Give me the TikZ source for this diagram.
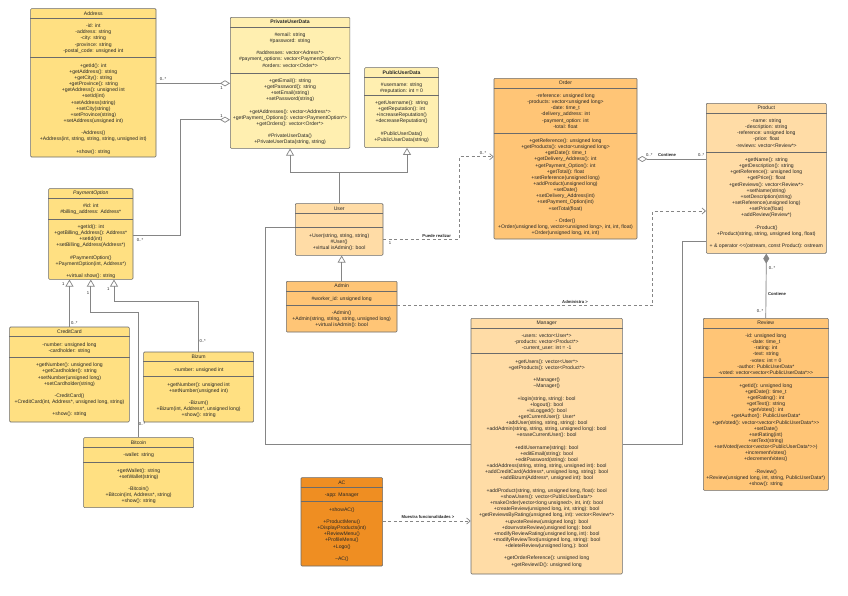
\documentclass[tikz,border=0pt]{standalone}
\usepackage{fontspec}
\setmainfont{Liberation Sans}
\usetikzlibrary{arrows.meta,positioning}

\definecolor{payfill}{HTML}{FFE082}
\definecolor{datafill}{HTML}{FFEFB0}
\definecolor{peachfill}{HTML}{FFDCA6}
\definecolor{orangefill}{HTML}{FFC576}
\definecolor{acfill}{HTML}{EF8E22}
\definecolor{boxdraw}{HTML}{6B6B6B}
\definecolor{linkdraw}{HTML}{858585}

\newcommand{\gtgt}{>\kern0pt>}
\newcommand{\ltlt}{<\kern0pt<}

\tikzset{
  classbox/.style={draw=boxdraw, line width=0.6pt, rounded corners=1pt, inner sep=0pt},
  classline/.style={draw=boxdraw, line width=0.6pt},
  classtitle/.style={font=\fontsize{5.1}{6.15}\selectfont, text=black!85, inner sep=0pt},
  members/.style={font=\fontsize{5.1}{6.15}\selectfont, text=black!85, align=center, inner sep=0pt, anchor=north},
  link/.style={draw=linkdraw, line width=0.7pt},
  dep/.style={link, dash pattern=on 3pt off 2.5pt},
  mult/.style={font=\fontsize{4.2}{5}\selectfont, text=black!85, inner sep=0pt},
  linkname/.style={font=\bfseries\fontsize{4.2}{5}\selectfont, text=black!85, inner sep=0pt},
  inherit/.style={link, -{Triangle[open, length=7pt, width=8pt]}},
  aggreg/.style={link, {Diamond[open, length=10pt, width=6pt]}-},
  compos/.style={link, {Diamond[length=10pt, width=6pt]}-},
  uses/.style={dep, -{Straight Barb[length=3.5pt, width=6pt]}},
}

% #1 style, #2 name, #3 top left, #4 width, #5 height, #6 attribute part, #7 title, #8 attributes, #9 operations
\newcommand{\umlclass}[9]{
  \node[classbox, #1, minimum width=#4, minimum height=#5, anchor=north west] (#2) at #3 {};
  \draw[classline] ([yshift=-10]#2.north west) -- ([yshift=-10]#2.north east);
  \draw[classline] ([yshift=-10-#6]#2.north west) -- ([yshift=-10-#6]#2.north east);
  \node[classtitle] (#2-title) at ([yshift=-5]#2.north) {#7};
  \node[members] (#2-attr) at ([yshift=-15.5]#2.north) {#8};
  \node[members] (#2-ops) at ([yshift=-15.5-#6]#2.north) {#9};
}

\begin{document}
\begin{tikzpicture}[x=1pt, y=-1pt]

\fill[white] (0,0) rectangle (848,595);

\umlclass{fill=payfill}{address}{(30.3,8.3)}{125.4}{148.4}{39.4}{Address}
  {-id: int\\-address: string\\-city: string\\-province: string\\-postal\_code: unsigned int}
  {+getId(): int\\+getAddress(): string\\+getCity(): string\\+getProvince(): string\\+getAddress(): unsigned int\\+setId(int)\\+setAddress(string)\\+setCity(string)\\+setProvince(string)\\+setAddress(unsigned int)\\[6.15pt]-Address()\\+Address(int, string, string, string, unsigned int)\\[6.15pt]+show(): string}

\umlclass{fill=datafill}{privdata}{(230,17)}{119.5}{131}{46}{\textbf{PrivateUserData}}
  {\#email: string\\\#password: string\\[6.15pt]\#addresses: vector<Adress*>\\\#payment\_options: vector<PaymentOption*>\\\#orders: vector<Order*>}
  {+getEmail(): string\\+getPassword(): string\\+setEmail(string)\\+setPassword(string)\\[6.15pt]+getAddresses(): vector<Address*>\\+getPayment\_Options(): vector<PaymentOption*>\\+getOrders(): vector<Order*>\\[6.15pt]\#PrivateUserData()\\+PrivateUserData(string, string)}

\umlclass{fill=datafill}{pubdata}{(364.3,67.3)}{74}{80}{17.7}{\textbf{PublicUserData}}
  {\#username: string\\\#reputation: int = 0}
  {+getUsername(): string\\+getReputation(): int\\+increaseReputation()\\+decreaseReputation()\\[6.15pt]\#PublicUserData()\\+PublicUserData(string)}

\umlclass{fill=orangefill}{order}{(493.7,78)}{143}{160.7}{45}{Order}
  {-reference: unsigned long\\-products: vector<unsigned long>\\-date: time\_t\\-delivery\_address: int\\-payment\_option: int\\-total: float}
  {+getReference(): unsigned long\\+getProducts(): vector<unsigned long>\\+getDate(): time\_t\\+getDelivery\_Address(): int\\+getPayment\_Option(): int\\+getTotal(): float\\+setReference(unsigned long)\\+addProduct(unsigned long)\\+setDate()\\+setDelivery\_Address(int)\\+setPayment\_Option(int)\\+setTotal(float)\\[6.15pt]- Order()\\+Order(unsigned long, vector<unsigned long>, int, int, float)\\+Order(unsigned long, int, int)}

\umlclass{fill=peachfill}{product}{(706,103)}{120}{150}{39}{Product}
  {-name: string\\-description: string\\-reference: unsigned long\\-price: float\\-reviews: vector<Review*>}
  {+getName(): string\\+getDescription(): string\\+getReference(): unsigned long\\+getPrice(): float\\+getReviews(): vector<Review*>\\+setName(string)\\+setDescription(string)\\+setReference(unsigned long)\\+setPrice(float)\\+addReview(Review*)\\[6.15pt]-Product()\\+Product(string, string, unsigned long, float)\\[6.15pt]+ \& operator \ltlt(ostream, const Product): ostream}

\umlclass{fill=payfill}{payment}{(48.3,188.3)}{84.4}{90.7}{20.7}{\textit{PaymentOption}}
  {\#id: int\\\#billing\_address: Address*}
  {+getId(): int\\+getBilling\_Address(): Address*\\+setId(int)\\+setBilling\_Address(Address*)\\[6.15pt]\#PaymentOption()\\+PaymentOption(int, Address*)\\[6.15pt]+virtual show(): string}

\umlclass{fill=peachfill}{user}{(295,203.3)}{87.7}{51.7}{14.4}{User}
  {}
  {+User(string, string, string)\\\#User()\\+virtual isAdmin(): bool}

\umlclass{fill=orangefill}{admin}{(286,281)}{110.7}{50.7}{14}{Admin}
  {\#worker\_id: unsigned long}
  {-Admin()\\+Admin(string, string, string, unsigned long)\\+virtual isAdmin(): bool}

\umlclass{fill=payfill}{credit}{(9.3,326.7)}{119.7}{95}{20.6}{CreditCard}
  {-number: unsigned long\\-cardholder: string}
  {+getNumber(): unsigned long\\+getCardholder(): string\\+setNumber(unsigned long)\\+setCardholder(string)\\[6.15pt]-CreditCard()\\+CreditCard(int, Address*, unsigned long, string)\\[6.15pt]+show(): string}

\umlclass{fill=payfill}{bizum}{(143.3,351.7)}{110}{70}{15}{Bizum}
  {-number: unsigned int}
  {+getNumber(): unsigned int\\+setNumber(unsigned int)\\[6.15pt]-Bizum()\\+Bizum(int, Address*, unsigned long)\\+show(): string}

\umlclass{fill=payfill}{bitcoin}{(83.3,437.3)}{110}{70}{15.4}{Bitcoin}
  {-wallet: string}
  {+getWallet(): string\\+setWallet(string)\\[6.15pt]-Bitcoin()\\+Bitcoin(int, Address*, string)\\+show(): string}

\umlclass{fill=acfill}{ac}{(300.7,477.3)}{81.6}{88.4}{14.4}{AC}
  {-app: Manager}
  {+showAC()\\[6.15pt]+ProductMenu()\\+DisplayProducts(int)\\+ReviewMenu()\\+ProfileMenu()\\+Logo()\\[6.15pt]\textasciitilde AC()}

\umlclass{fill=peachfill}{manager}{(470.7,318)}{151.3}{255.7}{25.7}{Manager}
  {-users: vector<User*>\\-products: vector<Product*>\\-current\_user: int = -1}
  {+getUsers(): vector<User*>\\+getProducts(): vector<Product*>\\[6.15pt]+Manager()\\\textasciitilde Manager()\\[6.15pt]+login(string, string): bool\\+logout(): bool\\+isLogged(): bool\\+getCurrentUser(): User*\\+addUser(string, string, string): bool\\+addAdmin(string, string, string, unsigned long): bool\\+eraseCurrentUser(): bool\\[6.15pt]+editUsername(string): bool\\+editEmail(string): bool\\+editPassword(string): bool\\+addAddress(string, string, string, unsigned int): bool\\+addCreditCard(Address*, unsigned long, string): bool\\+addBizum(Address*, unsigned int): bool\\[6.15pt]+addProduct(string, string, unsigned long, float): bool\\+showUsers(): vector<PublicUserData*>\\+makeOrder(vector<long unsigned>, int, int): bool\\+createReview(unsigned long, int, string): bool\\+getReviewsByRating(unsigned long, int): vector<Review*>\\+upvoteReview(unsigned long): bool\\+downvoteReview(unsigned long): bool\\+modifyReviewRating(unsigned long, int): bool\\+modifyReviewText(unsigned long, string): bool\\+deleteReview(unsigned long,): bool\\[6.15pt]+getOrderReference(): unsigned long\\+getReviewID(): unsigned long}

\umlclass{fill=orangefill}{review}{(703,318)}{125}{172}{49.7}{Review}
  {-id: unsigned long\\-date: time\_t\\-rating: int\\-text: string\\-votes: int = 0\\-author: PublicUserData*\\-voted: vector<vector<PublicUserData*\gtgt}
  {+getId(): unsigned long\\+getDate(): time\_t\\+getRating(): int\\+getText(): string\\+getVotes(): int\\+getAuthor(): PublicUserData*\\+getVoted(): vector<vector<PublicUserData*\gtgt\\+setDate()\\+setRating(int)\\+setText(string)\\+setVoted(vector<vector<PublicUserData*\gtgt)\\+incrementVotes()\\+decrementVotes()\\[6.15pt]-Review()\\+Review(unsigned long, int, string, PublicUserData*)\\+show(): string}

\draw[aggreg] (privdata.west |- 0,83.3) -- (address.east |- 0,83.3);
\draw[aggreg] (privdata.west |- 0,119.7) -| (180,235.7) -- (payment.east |- 0,235.7);
\node[mult] (m-addr) at (163,79.5) {0..*};
\node[mult] (m-priv1) at (221.5,88) {1};
\node[mult] (m-priv2) at (221.5,116) {1};
\node[mult] (m-pay) at (140,240) {0..*};

\coordinate (userfork) at (user.north |- 0,172.3);
\draw[inherit] (user.north) -- (userfork) -| (privdata.south);
\draw[inherit] (userfork) -| ([xshift=5.4]pubdata.south);
\draw[inherit] (admin.north) -- (admin.north |- user.south);

\draw[inherit] (credit.north) -- (credit.north |- payment.south);
\draw[inherit] (bitcoin.north) |- (payment.south |- 0,312.3) -- (payment.south);
\draw[inherit] (bizum.north) |- (114,301.7) -- (payment.south -| 114,0);
\node[mult] (m-pay1) at (63.3,284.3) {1};
\node[mult] (m-pay2) at (88,292.7) {1};
\node[mult] (m-pay3) at (108.3,288.7) {1};
\node[mult] (m-credit) at (74.3,322.7) {0..*};
\node[mult] (m-bitcoin) at (142,424) {0..*};
\node[mult] (m-bizum) at (202.7,341) {0..*};

\draw[uses] (user.east |- 0,239) -| (459.3,156.7) -- (order.west |- 0,156.7);
\node[linkname] (puede) at (436.7,235.7) {Puede realizar};
\node[mult] (m-user) at (390,242.7) {1};
\node[mult] (m-order) at (483,153) {0..*};

\draw[uses] (admin.east |- 0,305.7) -| (652.7,211) -- (product.west |- 0,211);
\node[linkname] (administra) at (575,302.3) {Administra >};

\draw[aggreg] (order.east |- 0,159) -- (product.west |- 0,159);
\node[mult] (m-order2) at (649.3,155) {0..*};
\node[linkname] (contiene1) at (667,155) {Contiene};
\node[mult] (m-product) at (701.2,155) {0..*};

\draw[compos, fill=linkdraw!80!black] (product.south) -- (review.north);
\node[mult] (m-product2) at (772,268) {0..*};
\node[linkname] (contiene2) at (777,294) {Contiene};
\node[mult] (m-review) at (760,311) {0..*};

\draw[link] (manager.west |- 0,444.7) -| (265.7,227.7) -- (user.west |- 0,227.7);
\draw[link] (manager.east |- 0,444.7) -| (682.7,241.7) -- (product.west |- 0,241.7);

\draw[uses] (ac.east |- 0,521) -- (manager.west |- 0,521);
\node[linkname] (muestra) at (428,517) {Muestra funcionalidades >};

\end{tikzpicture}
\end{document}
